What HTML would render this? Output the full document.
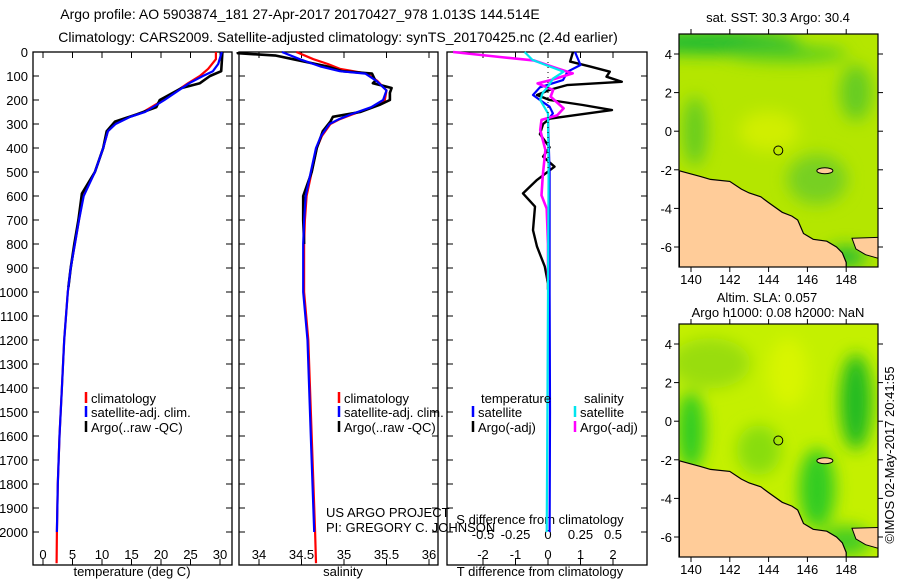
<!DOCTYPE html>
<html><head><meta charset="utf-8"><style>
html,body{margin:0;padding:0;background:#fff}
svg{display:block;font-family:"Liberation Sans",sans-serif}
</style></head><body>
<svg id="c" width="900" height="580" viewBox="0 0 900 580" xmlns="http://www.w3.org/2000/svg">
<defs>
<filter id="bl" x="-50%" y="-50%" width="200%" height="200%"><feGaussianBlur stdDeviation="8"/></filter>
<clipPath id="m1"><rect x="679" y="34" width="199" height="233"/></clipPath>
<clipPath id="m2"><rect x="679" y="324" width="199" height="233"/></clipPath>
</defs>
<text x="300" y="19" font-size="14" text-anchor="middle">Argo profile: AO 5903874_181 27-Apr-2017 20170427_978 1.013S 144.514E</text>
<text x="338" y="42" font-size="14" text-anchor="middle">Climatology: CARS2009. Satellite-adjusted climatology: synTS_20170425.nc (2.4d earlier)</text>
<g id="g"></g>
</svg>
<script>
// ---- data ----
const tClimDepth=[0,30,70,100,130,200,250,270,300,330,400,500,600,700,800,900,1000,1200,1400,1600,1800,2000,2130];
const tClim=[29.3,29.3,28.0,26.6,24.6,20.4,17.0,14.7,12.2,11.0,10.2,8.8,6.8,6.1,5.4,4.7,4.2,3.6,3.2,2.8,2.5,2.35,2.3];
const tSatDepth=[0,50,80,100,130,200,250,270,300,330,400,500,600,700,800,900,1000,1200,1400,1600,1800,2000];
const tSat=[30.3,29.7,28.8,27.1,24.8,20.6,17.3,14.8,12.3,11.0,10.2,8.8,6.9,6.1,5.4,4.7,4.2,3.6,3.2,2.8,2.5,2.35];
const tArgoDepth=[0,80,100,130,150,200,230,260,290,330,400,500,590,700,800,900,980];
const tArgo=[30.4,30.2,28.3,26.6,23.5,19.8,19.2,15.9,12.2,10.8,10.2,8.8,6.6,6.0,5.3,4.7,4.3];
const sClimDepth=[0,30,50,70,90,120,160,200,230,260,280,300,350,400,500,600,700,800,1000,1200,1600,2000,2130];
const sClim=[34.44,34.64,34.81,34.95,35.27,35.39,35.5,35.48,35.34,35.1,34.95,34.84,34.74,34.68,34.62,34.56,34.54,34.53,34.53,34.58,34.62,34.66,34.67];
const sSatDepth=[0,30,60,80,90,120,160,200,230,260,280,300,350,400,500,600,700,800,1000,1200,1600,2000];
const sSat=[34.27,34.48,34.72,34.95,35.25,35.38,35.5,35.46,35.32,35.08,34.94,34.83,34.73,34.67,34.61,34.55,34.53,34.52,34.52,34.57,34.61,34.65];
const sArgoDepth=[0,5,15,30,60,80,90,120,130,150,170,200,220,250,270,290,330,400,500,600,700,800];
const sArgo=[33.75,33.75,34.2,34.4,34.8,34.98,35.33,35.37,35.34,35.56,35.54,35.54,35.42,35.19,34.87,34.84,34.75,34.68,34.62,34.52,34.52,34.53];
const dTSatDepth=[0,54,82,117,147,179,200,228,256,283,500,1000,1500,2000];
const dTSat=[0.83,1.0,0.6,0.46,-0.25,-0.46,-0.25,0.05,0.15,0.0,0.05,0.05,0.06,0.05];
const dSSatDepth=[0,33,61,82,110,144,170,200,228,256,500,1000,1500,2000];
const dSSat=[-0.18,-0.12,0.015,0.12,0.04,0.0,-0.04,-0.06,-0.03,0.0,0.005,0.0,-0.005,-0.01];
const dSArgoDepth=[0,21,35,68,89,117,131,158,186,235,264,283,325,408,514,597,653,800,950];
const dSArgo=[-0.73,-0.37,-0.11,0.07,0.19,0.02,-0.08,0.04,0.02,0.12,0.07,-0.05,-0.06,-0.02,-0.04,-0.05,-0.01,0.0,0.0];
const dTArgoDepth=[0,40,61,82,103,124,138,158,179,200,221,242,264,278,300,342,397,436,478,533,589,644,742,811,894,964,990];
const dTArgo=[0.77,0.68,1.3,1.9,1.8,2.27,0.58,0.05,-0.34,0.05,1.07,1.97,0.77,0.05,-0.15,-0.25,0.05,-0.15,0.2,-0.34,-0.77,-0.4,-0.46,-0.34,-0.1,0.0,0.0];
const depthTicks=[0,100,200,300,400,500,600,700,800,900,1000,1100,1200,1300,1400,1500,1600,1700,1800,1900,2000];
const tTicks=[0,5,10,15,20,25,30];
const sTicks=[34,34.5,35,35.5,36];
const dTTicks=[-2,-1,0,1,2];
const dSTicks=[-0.5,-0.25,0,0.25,0.5];
const lonTicks=[140,142,144,146,148];
const latTicks=[4,2,0,-2,-4,-6];

const NS='http://www.w3.org/2000/svg';
const G=document.getElementById('g');
const FS=13;
function mk(tag,attrs,parent){const e=document.createElementNS(NS,tag);for(const k in attrs)e.setAttribute(k,attrs[k]);(parent||G).appendChild(e);return e;}
function txt(x,y,s,size,anchor,parent){const e=mk('text',{x:x,y:y,'font-size':size,'text-anchor':anchor||'start'},parent);e.textContent=s;return e;}

const TOP=52,BOT=565;
const yD=d=>TOP+d*0.24;
const xT=v=>43+v*5.9;
const xS=v=>259+(v-34)*85;
const xdT=v=>548+v*32.5;
const xdS=v=>548+v*130;
const panels=[[33,232],[239,438],[447,647]];

panels.forEach((p,i)=>{
  const r=mk('rect',{x:p[0],y:TOP,width:p[1]-p[0],height:BOT-TOP,fill:'none',stroke:'#000','stroke-width':1.3});
  
  
  depthTicks.forEach(d=>{
    const y=yD(d);
    mk('line',{x1:p[0],x2:p[0]+6,y1:y,y2:y,stroke:'#000'});
    mk('line',{x1:p[1],x2:p[1]-6,y1:y,y2:y,stroke:'#000'});
  });
});
depthTicks.forEach(d=>{
  const t=txt(28,yD(d)+5,String(d),FS,'end');
  
  
});
function xaxis(ticks,fx,ylab){
  ticks.forEach(v=>{
    const x=fx(v);
    mk('line',{x1:x,x2:x,y1:BOT,y2:BOT-6,stroke:'#000'});
    mk('line',{x1:x,x2:x,y1:TOP,y2:TOP+6,stroke:'#000'});
    const t=txt(x,ylab,String(v),FS,'middle');
    
    
  });
}
xaxis(tTicks,xT,559);
xaxis(sTicks,xS,559);
xaxis(dTTicks,xdT,559);
dSTicks.forEach(v=>{
  const t=txt(xdS(v),539,String(v),FS,'middle');
  
  
});
[[132,'temperature (deg C)'],[343,'salinity'],[540,'T difference from climatology']].forEach(a=>{
  const t=txt(a[0],576,a[1],FS,'middle');
  
  
});
{const t=txt(540,524,'S difference from climatology',FS,'middle');

}

function line(depths,vals,fx,color,w,name){
  const pts=depths.map((d,i)=>fx(vals[i]).toFixed(1)+','+yD(d).toFixed(1)).join(' ');
  const e=mk('polyline',{points:pts,fill:'none',stroke:color,'stroke-width':w,'stroke-linejoin':'round'});
  
  
}
line(tClimDepth,tClim,xT,'#ff0000',2.2,'temp-climatology-line');
line(tArgoDepth,tArgo,xT,'#000',2.6,'temp-argo-line');
line(tSatDepth,tSat,xT,'#0000ff',2.2,'temp-satellite-line');
line(sClimDepth,sClim,xS,'#ff0000',2.2,'sal-climatology-line');
line(sArgoDepth,sArgo,xS,'#000',2.6,'sal-argo-line');
line(sSatDepth,sSat,xS,'#0000ff',2.2,'sal-satellite-line');
line(dTArgoDepth,dTArgo,xdT,'#000',2.4,'tdiff-argo-line');
line(dTSatDepth,dTSat,xdT,'#0000ff',2.2,'tdiff-satellite-line');
line(dSArgoDepth,dSArgo,xdS,'#ff00ff',2.6,'sdiff-argo-line');
line(dSSatDepth,dSSat,xdS,'#00e5ee',2.2,'sdiff-satellite-line');
mk('line',{x1:548,x2:548,y1:TOP,y2:TOP+120,stroke:'#000','stroke-dasharray':'1,4'});

function leg(x,y,col,label){
  mk('line',{x1:x,x2:x,y1:y-11,y2:y,stroke:col,'stroke-width':2.5});
  const t=txt(x+5,y,label,FS,'start');
  
  
}
[[86],[339]].forEach(a=>{
  leg(a[0],403,'#ff0000','climatology');
  leg(a[0],417,'#0000ff','satellite-adj. clim.');
  leg(a[0],432,'#000','Argo(..raw -QC)');
});
txt(481,403,'temperature',FS,'start');
txt(584,403,'salinity',FS,'start');
leg(473,417,'#0000ff','satellite');
leg(473,432,'#000','Argo(-adj)');
leg(575,417,'#00e5ee','satellite');
leg(575,432,'#ff00ff','Argo(-adj)');
txt(326,517,'US ARGO PROJECT',FS,'start');
txt(326,532,'PI: GREGORY C. JOHNSON',FS,'start');

const lonX=l=>691+(l-140)*19.4;
const latY=(l,off)=>off+20+(4-l)*19.3;
const coast=[[139.4,-2.05],[140.5,-2.35],[141,-2.5],[142,-2.6],[142.6,-3.0],[143,-3.2],[143.6,-3.4],[144,-3.7],[144.7,-4.2],[145.2,-4.4],[145.5,-4.6],[145.8,-5.3],[146.3,-5.6],[147,-5.7],[147.5,-6.0],[147.8,-6.3],[148,-6.8],[148,-7.1],[139.4,-7.1]];
function map(off,clip,base,blobs,name){
  const g=mk('g',{'clip-path':'url(#'+clip+')'});
  
  
  mk('rect',{x:679,y:off,width:199,height:233,fill:base},g);
  const bg=mk('g',{filter:'url(#bl)'},g);
  blobs.forEach(b=>mk('ellipse',{cx:lonX(b[0]),cy:latY(b[1],off),rx:b[2],ry:b[3],fill:b[4]},bg));
  mk('polygon',{points:coast.map(p=>lonX(p[0]).toFixed(1)+','+latY(p[1],off).toFixed(1)).join(' '),fill:'#ffcc99',stroke:'#000','stroke-width':1.2},g);
  mk('polygon',{points:[[148.3,-5.55],[149.7,-5.5],[149.7,-6.6],[149,-6.4],[148.5,-6.1]].map(p=>lonX(p[0]).toFixed(1)+','+latY(p[1],off).toFixed(1)).join(' '),fill:'#ffcc99',stroke:'#000','stroke-width':1},g);
  mk('ellipse',{cx:lonX(146.9),cy:latY(-2.05,off),rx:8,ry:3,fill:'#ffcc99',stroke:'#000'},g);
  mk('circle',{cx:lonX(144.5),cy:latY(-1.0,off),r:4.5,fill:'none',stroke:'#000'},g);
  mk('rect',{x:679,y:off,width:199,height:233,fill:'none',stroke:'#000','stroke-width':1.2});
  lonTicks.forEach(l=>{
    const x=lonX(l);
    mk('line',{x1:x,x2:x,y1:off,y2:off-5,stroke:'#000'});
    mk('line',{x1:x,x2:x,y1:off+233,y2:off+238,stroke:'#000'});
    const t=txt(x,off+250,String(l),FS,'middle');
    
    
  });
  latTicks.forEach(l=>{
    const y=latY(l,off);
    mk('line',{x1:679,x2:674,y1:y,y2:y,stroke:'#000'});
    mk('line',{x1:878,x2:883,y1:y,y2:y,stroke:'#000'});
    const t=txt(672,y+5,String(l),FS,'end');
    
    
  });
}
map(34,'m1','#b4e600',[[141,4.6,90,12,'#22bb33'],[145,4,60,8,'#55cc22'],[140.2,0,12,35,'#66cc22'],[146.5,-2.5,30,25,'#77d022'],[148.5,2,16,28,'#66cc22'],[144,0,30,20,'#d0ee00'],[148,-6.5,20,10,'#22bb33']],'sst-map');
map(324,'m2','#c4f000',[[140,-0.5,14,40,'#33cc22'],[148.5,1,16,48,'#22bb22'],[146.5,-3.5,18,40,'#33cc22'],[141,3,40,25,'#99dd11'],[145,2.5,20,35,'#d8f500'],[148,-6.2,25,15,'#44cc22'],[143.5,-1.5,22,25,'#88dd11']],'sla-map');
txt(778,22,'sat. SST: 30.3 Argo: 30.4',FS,'middle');
txt(767,302,'Altim. SLA: 0.057',FS,'middle');
txt(778,317,'Argo h1000: 0.08 h2000: NaN',FS,'middle');
const v=txt(0,0,'\u00a9IMOS 02-May-2017 20:41:55',FS,'middle');
v.setAttribute('transform','translate(894,455) rotate(-90)');


</script>
</body></html>
